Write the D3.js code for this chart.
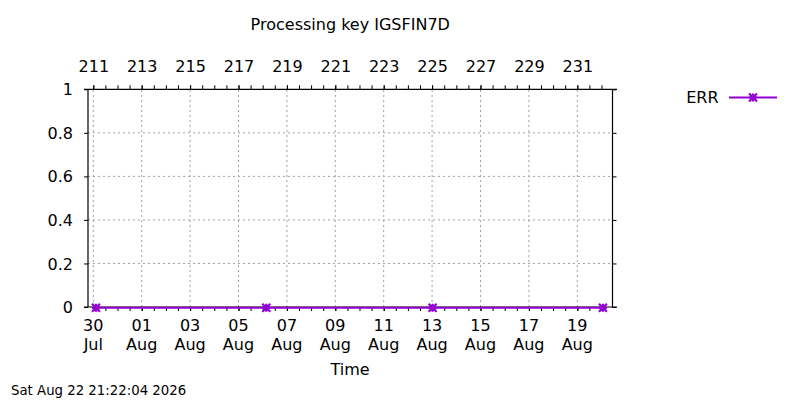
<!DOCTYPE html>
<html>
<head>
<meta charset="utf-8">
<script src="https://cdn.jsdelivr.net/npm/d3@7"></script>
<style>
  body { margin: 0; background: #fff; }
  text { font-family: "DejaVu Sans", sans-serif; fill: #000; }
</style>
</head>
<body>
<svg id="chart" width="800" height="400"></svg>
<script>
// ---- data ----
const chartTitle = "Processing key IGSFIN7D";
const xLabel = "Time";
const stamp = "Sat Aug 22 21:22:04 2026";
const seriesName = "ERR";
const times = ["2026-07-30T02:40", "2026-08-06T03:36", "2026-08-13T00:30", "2026-08-20T01:25"];
const errValues = [0, 0, 0, 0];
const yTicks = [0, 0.2, 0.4, 0.6, 0.8, 1];
const xDomain = ["2026-07-29T18:45", "2026-08-20T10:55"];
const firstTick = "2026-07-30T00:00";

const parse = d3.timeParse("%Y-%m-%dT%H:%M");
const data = times.map((t, i) => ({ t: parse(t), v: errValues[i] }));

const svg = d3.select("#chart");
const L = 88, R = 612.5, T = 89.3, B = 307;
const color = "#9400d3";

const x = d3.scaleTime().domain(xDomain.map(parse)).range([L, R]);
const y = d3.scaleLinear().domain([0, 1]).range([B, T]);

const majorTicks = d3.timeDay.range(parse(firstTick), x.domain()[1], 2);
const minorTicks = d3.timeHour.every(12).range(x.domain()[0], x.domain()[1]);

// grid
const grid = svg.append("g").attr("stroke", "#a0a0a0").attr("stroke-width", 1).attr("stroke-dasharray", "2,3");
majorTicks.forEach(d => grid.append("line").attr("x1", x(d)).attr("x2", x(d)).attr("y1", B).attr("y2", T));
yTicks.filter(v => v > 0 && v < 1).forEach(v => grid.append("line").attr("x1", L).attr("x2", R).attr("y1", y(v)).attr("y2", y(v)));

// axes
const bottomAxis = d3.axisBottom(x).tickValues(majorTicks).tickSize(4).tickFormat("");
const topAxis = d3.axisTop(x).tickValues(majorTicks).tickSize(4).tickFormat(d3.timeFormat("%j"));
const bottomMinor = d3.axisBottom(x).tickValues(minorTicks).tickSize(4).tickFormat("");
const topMinor = d3.axisTop(x).tickValues(minorTicks).tickSize(4).tickFormat("");
const leftAxis = d3.axisLeft(y).tickValues(yTicks).tickSize(4).tickFormat(d3.format("~g"));
const rightAxis = d3.axisRight(y).tickValues(yTicks).tickSize(4).tickFormat("");

function style(g) {
  g.select(".domain").remove();
  g.selectAll(".tick line").attr("stroke", "#000").attr("stroke-width", 1);
  g.selectAll("text").attr("font-family", "DejaVu Sans").attr("font-size", 16).attr("fill", "#000");
}
svg.append("g").attr("transform", `translate(0,${B})`).call(bottomMinor).call(style);
svg.append("g").attr("transform", `translate(0,${B})`).call(bottomAxis).call(style);
svg.append("g").attr("transform", `translate(0,${T})`).call(topMinor).call(style);
const tg = svg.append("g").attr("transform", `translate(0,${T})`).call(topAxis).call(style);
tg.selectAll("text").attr("dy", null).attr("y", -17);
const lg = svg.append("g").attr("transform", `translate(${L},0)`).call(leftAxis).call(style);
lg.selectAll("text").attr("x", -15).attr("dy", "0.35em");
svg.append("g").attr("transform", `translate(${R},0)`).call(rightAxis).call(style);

// bottom two-line labels
const bl = svg.append("g").attr("font-size", 16).attr("text-anchor", "middle");
majorTicks.forEach(d => {
  bl.append("text").attr("x", x(d)).attr("y", 331.3).text(d3.timeFormat("%d")(d));
  bl.append("text").attr("x", x(d)).attr("y", 350.1).text(d3.timeFormat("%b")(d));
});

// border lines (gnuplot style)
const border = svg.append("g").attr("stroke", "#000").attr("stroke-width", 1.2);
border.append("line").attr("x1", 84).attr("x2", R + 4.5).attr("y1", T).attr("y2", T);
border.append("line").attr("x1", 84).attr("x2", R + 4.5).attr("y1", B).attr("y2", B);
border.append("line").attr("x1", L).attr("x2", L).attr("y1", T).attr("y2", B);
border.append("line").attr("x1", R).attr("x2", R).attr("y1", T).attr("y2", B);

// series line
const line = d3.line().x(d => x(d.t)).y(d => y(d.v) + 0.8);
svg.append("path").datum(data).attr("d", line).attr("fill", "none").attr("stroke", color).attr("stroke-width", 2);

function star(g, cx, cy) {
  const s = 4;
  const p = `M${cx - s},${cy}L${cx + s},${cy}M${cx},${cy - s}L${cx},${cy + s}M${cx - s},${cy - s}L${cx + s},${cy + s}M${cx - s},${cy + s}L${cx + s},${cy - s}`;
  g.append("path").attr("d", p).attr("stroke", color).attr("stroke-width", 2.2).attr("fill", "none");
}
const pts = svg.append("g");
data.forEach(d => star(pts, x(d.t), y(d.v) + 0.8));

// titles
svg.append("text").attr("x", (L + R) / 2).attr("y", 30).attr("text-anchor", "middle").attr("font-size", 16).text(chartTitle);
svg.append("text").attr("x", 350).attr("y", 374.5).attr("text-anchor", "middle").attr("font-size", 16).text(xLabel);
svg.append("text").attr("x", 11).attr("y", 395).attr("font-size", 13.3).text(stamp);

// legend
svg.append("text").attr("x", 718.5).attr("y", 103).attr("text-anchor", "end").attr("font-size", 16).text(seriesName);
svg.append("line").attr("x1", 729).attr("x2", 777).attr("y1", 97.5).attr("y2", 97.5).attr("stroke", color).attr("stroke-width", 2);
star(svg, 753, 97.5);
</script>
</body>
</html>
